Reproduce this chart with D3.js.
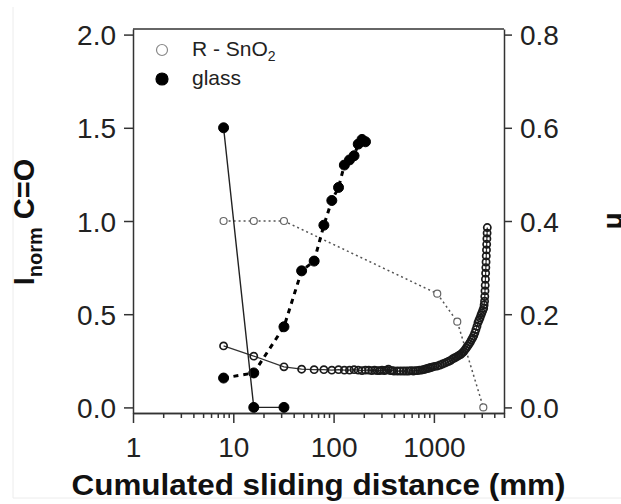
<!DOCTYPE html>
<html>
<head>
<meta charset="utf-8">
<script src="https://cdn.jsdelivr.net/npm/d3@7"></script>
<style>
  body { margin: 0; background: #fff; }
  svg { display: block; }
</style>
</head>
<body>
<div id="container"></div>
<script>
// Dimensions of the picture
const width = 621,
  height = 504;

// Plot box
const plotLeft = 133, plotRight = 504, plotTop = 29, plotBottom = 413;

// Glass, I_norm C=O (left axis)
const glassIX = [8, 16, 32];
const glassIY = [1.5, 0, 0];

// R-SnO2, I_norm C=O (left axis)
const snoIX = [8, 16, 32, 1080, 1710, 3110];
const snoIY = [1.0, 1.0, 1.0, 0.61, 0.46, 0.0];

// Glass, friction coefficient (right axis)
const glassMuX = [8, 16, 32, 48, 64, 80, 96, 112, 128, 144, 160, 176, 192, 208];
const glassMuY = [0.063, 0.074, 0.173, 0.293, 0.314, 0.391, 0.444, 0.472, 0.520, 0.531, 0.540, 0.565, 0.575, 0.570];

// R-SnO2, friction coefficient (right axis)
const snoMuX = [8, 16, 32, 48, 64, 80, 96, 112, 128, 144, 160, 176, 192, 208, 224, 240, 256, 272, 288, 304,
  320, 336, 352, 368, 384, 400, 432, 464, 496, 528, 560, 592, 624, 656, 688, 720, 752, 784, 816, 848,
  880, 912, 944, 976, 1024, 1088, 1152, 1216, 1280, 1344, 1408, 1472, 1536, 1600, 1664, 1728, 1792, 1856, 1920, 1984,
  2048, 2112, 2176, 2240, 2304, 2368, 2432, 2496, 2560, 2624, 2688, 2752, 2816, 2880, 2944, 3008, 3072, 3136, 3168, 3200,
  3216, 3232, 3248, 3264, 3280, 3296, 3312, 3328, 3344, 3360, 3376, 3392, 3408];
const snoMuY = [0.132, 0.110, 0.087, 0.082, 0.081, 0.081, 0.080, 0.081, 0.080, 0.080, 0.081, 0.080, 0.079, 0.080, 0.080, 0.079, 0.080, 0.079, 0.079, 0.080,
  0.079, 0.080, 0.082, 0.079, 0.079, 0.078, 0.078, 0.078, 0.078, 0.078, 0.078, 0.079, 0.078, 0.079, 0.079, 0.080, 0.080, 0.081, 0.082, 0.083,
  0.084, 0.085, 0.086, 0.087, 0.088, 0.089, 0.091, 0.093, 0.095, 0.097, 0.099, 0.101, 0.104, 0.106, 0.108, 0.110, 0.112, 0.114, 0.117, 0.120,
  0.124, 0.128, 0.132, 0.136, 0.140, 0.145, 0.149, 0.154, 0.160, 0.167, 0.174, 0.182, 0.187, 0.192, 0.198, 0.203, 0.208, 0.213, 0.220, 0.228,
  0.238, 0.250, 0.262, 0.275, 0.288, 0.300, 0.312, 0.325, 0.338, 0.350, 0.362, 0.374, 0.386];

// Axis ticks
const xTickValues = [1, 10, 100, 1000];
const xTickLabels = ["1", "10", "100", "1000"];
const yLeftTicks = [0, 0.5, 1.0, 1.5, 2.0];
const yRightTicks = [0, 0.2, 0.4, 0.6, 0.8];

const fontFamily = "'Liberation Sans', Arial, Helvetica, sans-serif";

// Scales
const x = d3.scaleLog().domain([1, 5000]).range([plotLeft, plotRight]);
const yLeft = d3.scaleLinear().domain([-0.03, 2.03]).range([plotBottom, plotTop]);
const yRight = d3.scaleLinear().domain([-0.012, 0.812]).range([plotBottom, plotTop]);

const svg = d3.select("#container")
  .append("svg")
  .attr("width", width)
  .attr("height", height);

// faint border of the scanned figure
svg.append("path")
  .attr("d", `M13,7V498H${width}`)
  .attr("fill", "none")
  .attr("stroke", "#ececec")
  .attr("stroke-width", 1);

// Series definitions
const series = [
  { xs: snoIX, ys: snoIY, scale: yLeft, stroke: "#555", width: 1.5, dash: "2,3",
    r: 3.5, fill: "#fff", mstroke: "#666", mwidth: 1.2 },
  { xs: snoMuX, ys: snoMuY, scale: yRight, stroke: "#333", width: 1.2, dash: null,
    r: 3.6, fill: "none", mstroke: "#1a1a1a", mwidth: 1.7 },
  { xs: glassMuX, ys: glassMuY, scale: yRight, stroke: "#000", width: 3, dash: "5,5",
    r: 5, fill: "#000", mstroke: "#000", mwidth: 1 },
  { xs: glassIX, ys: glassIY, scale: yLeft, stroke: "#222", width: 1.4, dash: null,
    r: 5, fill: "#000", mstroke: "#000", mwidth: 1 }
];

series.forEach(s => {
  const pts = s.xs.map((d, i) => [d, s.ys[i]]);
  const line = d3.line()
    .x(d => x(d[0]))
    .y(d => s.scale(d[1]));

  svg.append("path")
    .datum(pts)
    .attr("d", line)
    .attr("fill", "none")
    .attr("stroke", s.stroke)
    .attr("stroke-width", s.width)
    .attr("stroke-dasharray", s.dash);

  svg.append("g")
    .selectAll("circle")
    .data(pts)
    .join("circle")
    .attr("cx", d => x(d[0]))
    .attr("cy", d => s.scale(d[1]))
    .attr("r", s.r)
    .attr("fill", s.fill)
    .attr("stroke", s.mstroke)
    .attr("stroke-width", s.mwidth);
});

// Axes
function styleAxis(g, size) {
  g.attr("font-family", fontFamily).attr("font-size", size);
  g.selectAll("path.domain").attr("stroke", "#333").attr("stroke-width", 1.5);
  g.selectAll(".tick line").attr("stroke", "#333").attr("stroke-width", 1.5);
  g.selectAll(".tick text").attr("fill", "#222");
}

const leftAxis = svg.append("g")
  .attr("transform", `translate(${plotLeft},0)`)
  .call(d3.axisLeft(yLeft)
    .tickValues(yLeftTicks)
    .tickFormat(d3.format(".1f"))
    .tickSize(9)
    .tickSizeOuter(0)
    .tickPadding(8));
styleAxis(leftAxis, 28);
leftAxis.selectAll(".tick text").attr("dy", "0.36em");

const rightAxis = svg.append("g")
  .attr("transform", `translate(${plotRight},0)`)
  .call(d3.axisRight(yRight)
    .tickValues(yRightTicks)
    .tickFormat(d3.format(".1f"))
    .tickSize(8)
    .tickSizeOuter(0)
    .tickPadding(8));
styleAxis(rightAxis, 28);
rightAxis.selectAll(".tick text").attr("dy", "0.36em");

// minor log ticks
const minorTicks = x.ticks().filter(d => !xTickValues.includes(d));
const minorAxis = svg.append("g")
  .attr("transform", `translate(0,${plotBottom})`)
  .call(d3.axisBottom(x).tickValues(minorTicks).tickFormat("").tickSize(5).tickSizeOuter(0));
styleAxis(minorAxis, 10);

const bottomAxis = svg.append("g")
  .attr("transform", `translate(0,${plotBottom})`)
  .call(d3.axisBottom(x)
    .tickValues(xTickValues)
    .tickFormat((d, i) => xTickLabels[i])
    .tickSize(10)
    .tickSizeOuter(0)
    .tickPadding(14));
styleAxis(bottomAxis, 28);

// top frame line
svg.append("line")
  .attr("x1", plotLeft).attr("x2", plotRight)
  .attr("y1", plotTop).attr("y2", plotTop)
  .attr("stroke", "#333")
  .attr("stroke-width", 1.5);

// X axis title
svg.append("text")
  .attr("x", (plotLeft + plotRight) / 2)
  .attr("y", 495)
  .attr("text-anchor", "middle")
  .attr("font-family", fontFamily)
  .attr("font-weight", "bold")
  .attr("font-size", 29)
  .attr("textLength", 494)
  .attr("lengthAdjust", "spacingAndGlyphs")
  .attr("fill", "#111")
  .text("Cumulated sliding distance (mm)");

// Y axis title (left)
const yTitle = svg.append("text")
  .attr("transform", `translate(34,222) rotate(-90)`)
  .attr("text-anchor", "middle")
  .attr("font-family", fontFamily)
  .attr("font-weight", "bold")
  .attr("fill", "#111");
yTitle.append("tspan").attr("font-size", 29).text("I");
yTitle.append("tspan").attr("font-size", 20).attr("dy", 8).text("norm");
yTitle.append("tspan").attr("font-size", 29).attr("dy", -8).text(" C=O");

// Right axis title (mostly outside the window, as in the source)
svg.append("text")
  .attr("transform", `translate(622,221) rotate(-90)`)
  .attr("text-anchor", "middle")
  .attr("font-family", fontFamily)
  .attr("font-weight", "bold")
  .attr("font-size", 28)
  .attr("fill", "#111")
  .text("μ");

// Legend
const legendItems = [
  { label: "R - SnO", sub: "2", fill: "#fff", stroke: "#888" },
  { label: "glass", sub: null, fill: "#000", stroke: "#000" }
];

const legend = svg.append("g")
  .selectAll("g")
  .data(legendItems)
  .join("g")
  .attr("transform", (d, i) => `translate(162,${50 + i * 29})`);

legend.append("circle")
  .attr("r", (d, i) => i === 0 ? 5.5 : 6)
  .attr("fill", d => d.fill)
  .attr("stroke", d => d.stroke)
  .attr("stroke-width", 1.2);

const legendText = legend.append("text")
  .attr("x", 30)
  .attr("y", 6)
  .attr("font-family", fontFamily)
  .attr("font-size", 21)
  .attr("fill", "#222");
legendText.append("tspan").text(d => d.label);
legendText.filter(d => d.sub)
  .append("tspan")
  .attr("font-size", 14)
  .attr("dy", 5)
  .text(d => d.sub);
</script>
</body>
</html>
